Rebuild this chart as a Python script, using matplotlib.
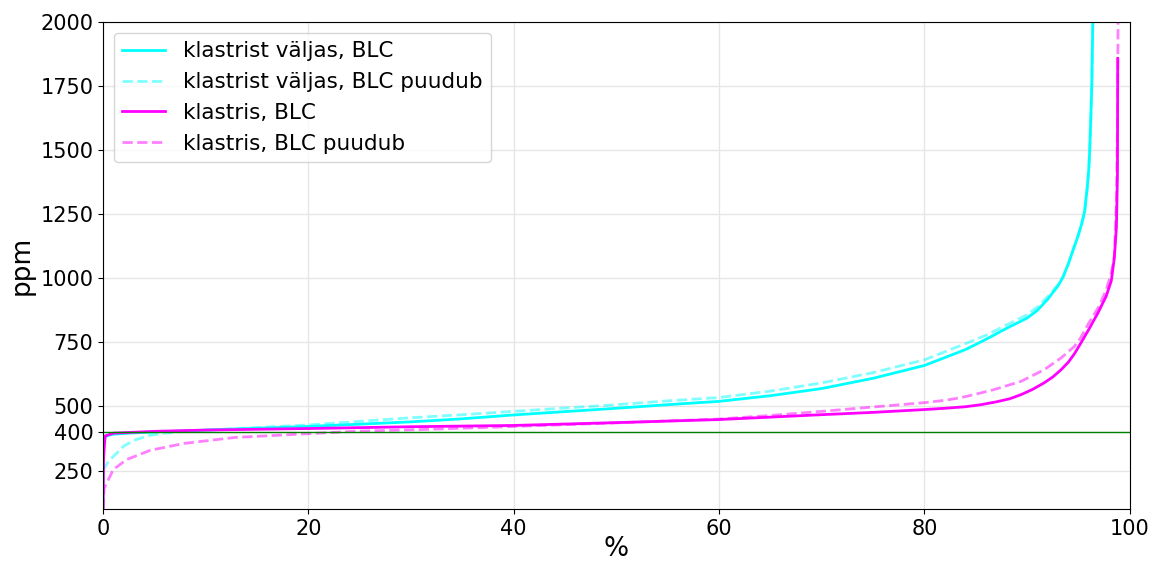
import numpy as np
import matplotlib
matplotlib.use("Agg")
import matplotlib.pyplot as plt

# klastrist väljas, BLC
x_cs = [0, 0, 0.3, 1, 3, 6, 10, 15, 20, 25, 30, 35, 40, 45, 50, 55, 60, 65, 70, 75,
        80, 84, 86, 88, 90, 91, 92, 93, 93.5, 94, 94.6, 95, 95.3, 95.6, 95.85, 96, 96.1, 96.2, 96.3, 96.4, 96.5]
y_cs = [100, 360, 385, 392, 397, 402, 408, 415, 422, 431, 440, 452, 467, 480, 493, 507, 520, 542, 570, 610,
        660, 722, 762, 805, 845, 875, 918, 970, 1005, 1055, 1124, 1170, 1210, 1260, 1350, 1420, 1500, 1620, 1750, 2000, 2200]

# klastrist väljas, BLC puudub
x_cd = [0, 0.5, 1, 2, 3, 4.6, 6, 8, 12, 16, 20, 25, 30, 35, 40, 45, 50, 55, 60, 65, 70, 75,
        80, 84, 86, 88, 90, 91, 92, 93, 93.5, 94, 94.6, 95, 95.3, 95.6, 95.85, 96, 96.1, 96.2, 96.3, 96.4, 96.5]
y_cd = [250, 285, 305, 345, 368, 388, 396, 403, 412, 420, 428, 442, 456, 468, 481, 494, 507, 522, 535, 560, 592, 632,
        682, 745, 778, 818, 858, 888, 928, 975, 1005, 1055, 1124, 1170, 1210, 1260, 1350, 1420, 1500, 1620, 1750, 2000, 2200]

# klastris, BLC
x_ms = [0, 0.05, 0.2, 1, 5, 10, 20, 30, 40, 50, 60, 70, 75, 80, 82, 84, 85.5, 87, 88.3, 89.4, 90.5, 91.65, 92.5, 93.3, 94,
        94.6, 95.2, 96, 96.9, 97.7, 98.2, 98.5, 98.7, 98.8, 98.83]
y_ms = [100, 300, 385, 396, 403, 408, 414, 421, 426, 437, 449, 468, 477, 488, 493, 499, 507, 518, 530, 546, 566, 592, 615, 643, 672,
        705, 745, 800, 865, 930, 990, 1080, 1200, 1400, 1858]

# klastris, BLC puudub
x_md = [0, 0.1, 0.4, 1, 2.3, 4.6, 7.9, 12.8, 20, 25, 31, 40, 50, 60, 65, 70, 75, 80, 82, 83.5, 85, 86.8, 89.4,
        91.65, 93.3, 94.6, 95.2, 96, 97, 97.7, 98.2, 98.5, 98.7, 98.8, 98.86, 98.9]
y_md = [100, 180, 205, 254, 293, 329, 356, 379, 394, 404, 410, 422, 436, 451, 465, 481, 498, 515, 524, 534, 548, 566, 598,
        643, 689, 734, 767, 825, 890, 955, 1020, 1090, 1300, 1600, 2000, 2200]

baseline = 400

y_ticks = [250, 400, 500, 750, 1000, 1250, 1500, 1750, 2000]
x_ticks = [0, 20, 40, 60, 80, 100]

fig = plt.figure(figsize=(11.54, 5.64), dpi=100)
ax = fig.add_axes([0.0893, 0.0975, 0.8897, 0.8635])

ax.plot(x_cs, y_cs, color='#00ffff', lw=2, label='klastrist väljas, BLC')
ax.plot(x_cd, y_cd, color='#00ffff', lw=2, ls='--', alpha=0.5, label='klastrist väljas, BLC puudub')
ax.plot(x_ms, y_ms, color='#ff00ff', lw=2, label='klastris, BLC')
ax.plot(x_md, y_md, color='#ff00ff', lw=2, ls='--', alpha=0.5, label='klastris, BLC puudub')
ax.axhline(baseline, color='green', lw=1)

ax.set_xlim(0, 100)
ax.set_ylim(100, 2000)
ax.set_yticks(y_ticks)
ax.set_xticks(x_ticks)
ax.tick_params(labelsize=15)
ax.grid(True, color='#e6e6e6', lw=1)
ax.set_axisbelow(True)

ax.set_ylabel('ppm', fontsize=19)
ax.set_xlabel('%', fontsize=19, labelpad=-2)

ax.legend(loc='upper left', fontsize=15.5, framealpha=0.8)

fig.savefig('out.png', dpi=100)
